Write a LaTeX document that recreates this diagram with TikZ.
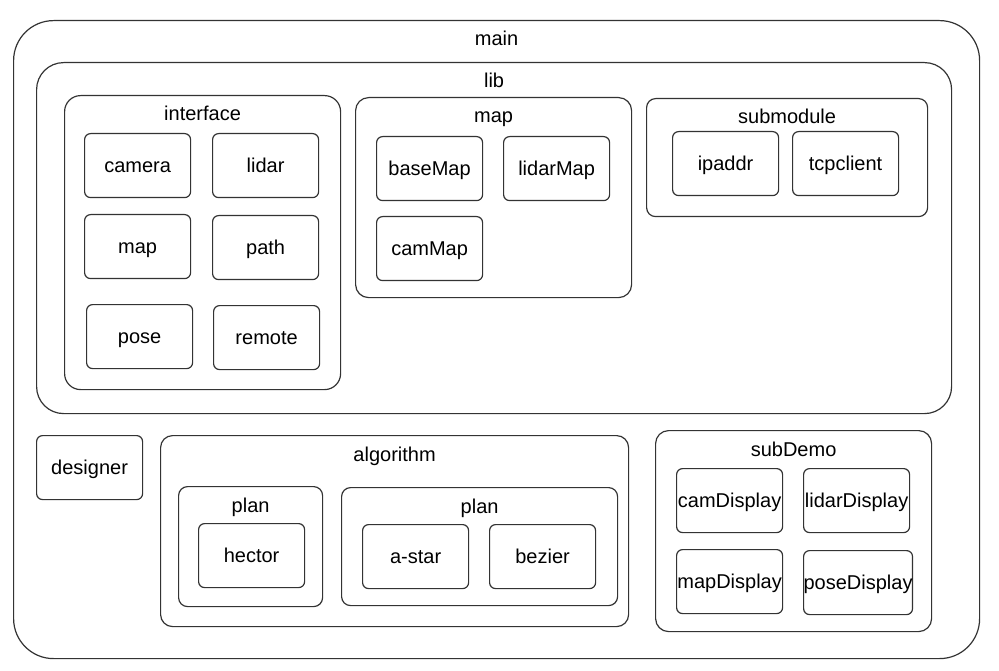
\documentclass[tikz,border=0pt]{standalone}
\usepackage{fontspec}
\setmainfont{Liberation Sans}

\tikzset{every node/.style={font=\fontsize{20}{24}\selectfont,text height=18pt,text depth=4pt},
  leafbox/.style={draw=black!80,line width=1.2pt,rounded corners=6pt,minimum width=106pt,minimum height=64pt,inner sep=0pt,anchor=north west},
  groupbox/.style={draw=black!80,line width=1.2pt,inner sep=0pt,anchor=north west},
  grouptitle/.style={inner sep=0pt}}
\newcommand{\leafpt}[3]{\node[leafbox] at (#1) (#2) {#3}}
\newcommand{\grouppt}[6][]{\node[groupbox,minimum width=#4pt,minimum height=#5pt,#1] at (#2) (#3) {};
  \node[grouptitle] at ([yshift=-19pt]#3.north) (#3-title) {#6}}

\begin{document}
\begin{tikzpicture}[x=1pt,y=-1pt]
  \useasboundingbox (0,0) rectangle (999,671);

  \grouppt[rounded corners=40pt]{13,20}{main}{966}{638}{main};
  \grouppt[rounded corners=27pt]{36,62}{lib}{915}{351}{lib};

  % lib
  \grouppt[rounded corners=16pt]{64,95}{interface}{276}{294}{interface};
  \leafpt{84,133}{camera}{camera};
  \leafpt{212,133}{lidar}{lidar};
  \leafpt{84,214}{map}{map};
  \leafpt{212,215}{path}{path};
  \leafpt{86,304}{pose}{pose};
  \leafpt{213,305}{remote}{remote};

  \grouppt[rounded corners=13pt]{355,97}{mapgroup}{276}{200}{map};
  \leafpt{376,136}{baseMap}{baseMap};
  \leafpt{503,136}{lidarMap}{lidarMap};
  \leafpt{376,216}{camMap}{camMap};

  \grouppt[rounded corners=9pt]{646,98}{submodule}{281}{118}{submodule};
  \leafpt{672,131}{ipaddr}{ipaddr};
  \leafpt{792,131}{tcpclient}{tcpclient};

  % below lib
  \leafpt{36,435}{designer}{designer};

  \grouppt[rounded corners=12pt]{160,435}{algorithm}{468}{191}{algorithm};
  \grouppt[rounded corners=9pt]{178,486}{planA}{144}{120}{plan};
  \leafpt{198,523}{hector}{hector};
  \grouppt[rounded corners=9pt]{341,487}{planB}{276}{118}{plan};
  \leafpt{362,524}{astar}{a-star};
  \leafpt{489,524}{bezier}{bezier};

  \grouppt[rounded corners=13pt]{655,430}{subDemo}{276}{201}{subDemo};
  \leafpt{676,468}{camDisplay}{camDisplay};
  \leafpt{803,468}{lidarDisplay}{lidarDisplay};
  \leafpt{676,549}{mapDisplay}{mapDisplay};
  \leafpt{803,550}{poseDisplay}{poseDisplay};
\end{tikzpicture}
\end{document}
